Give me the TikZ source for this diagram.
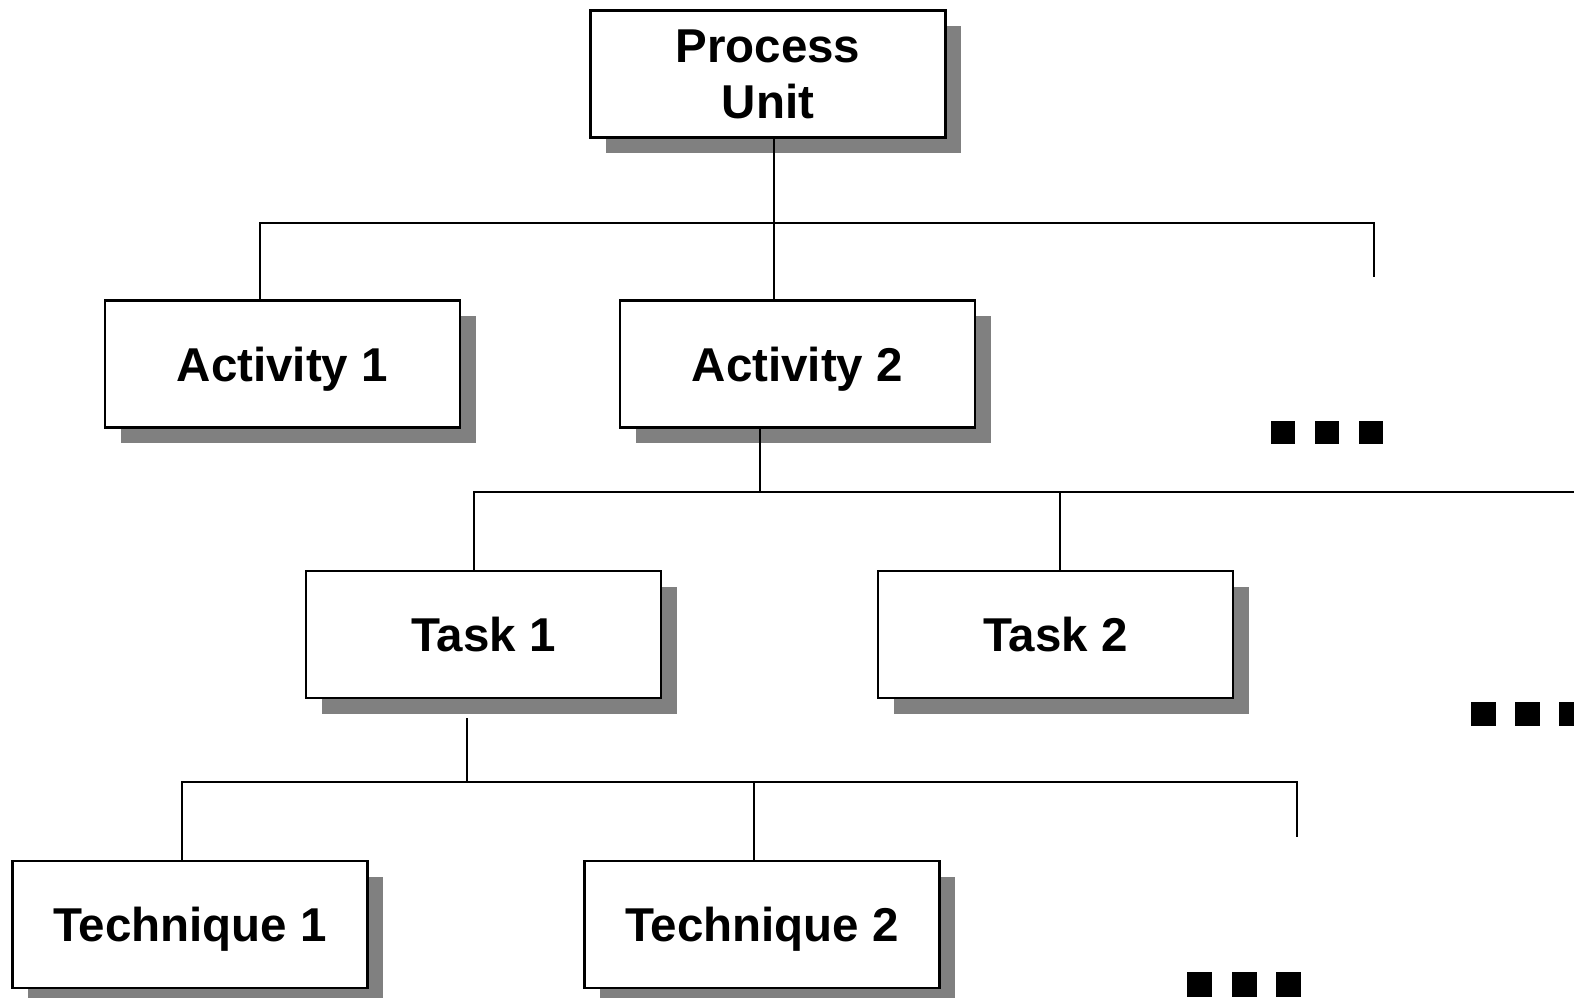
\documentclass[tikz,border=0pt]{standalone}
\usepackage{fontspec}
\setmainfont{Liberation Sans}
\usetikzlibrary{shadows}
\begin{document}
\begin{tikzpicture}[x=1pt,y=-1pt,
  unitbox/.style={draw=black, line width=2.8pt, fill=white, anchor=north west,
    minimum width=355pt, minimum height=127pt, inner sep=0pt, align=center,
    font=\fontsize{47.5}{56}\selectfont\bfseries,
    drop shadow={shadow xshift=16pt, shadow yshift=-16pt, fill=black!50, opacity=1, draw=none}},
  oneline/.style={unitbox, text depth=0pt},
  link/.style={line width=2.4pt, line cap=rect},
  dot/.style={fill=black}]
\useasboundingbox (0,0) rectangle (1574,997);

% hierarchy boxes
\node[unitbox] (pu) at (589,9) {Process\\Unit};
\node[oneline] (a1) at (103.5,299) {Activity 1};
\node[oneline] (a2) at (618.5,299) {Activity 2};
\node[oneline] (t1) at (304.5,569.5) {Task 1};
\node[oneline] (t2) at (876.5,569.5) {Task 2};
\node[oneline] (q1) at (11,859.5) {Technique 1};
\node[oneline] (q2) at (583,859.5) {Technique 2};

% level 1 connectors
\coordinate (j1) at (774,222.8);
\coordinate (e1) at (1374,276);
\draw[link] (pu.south -| j1) -- (a2.north -| j1);
\draw[link] (a1.north -| 260,0) |- (j1) -| (e1);

% level 2 connectors
\coordinate (j2) at (760,491.9);
\coordinate (e2) at (1574,491.9);
\draw[link] (a2.south -| j2) -- (j2);
\draw[link] (t1.north -| 473.8,0) |- (e2);
\draw[link] (t2.north -| 1060,0) -- (1060,491.9);

% level 3 connectors
\coordinate (s3) at (466.8,718.7);
\coordinate (j3) at (466.8,782);
\coordinate (e3) at (1297,836);
\draw[link] (s3) -- (j3);
\draw[link] (q1.north -| 181.7,0) |- (j3) -| (e3);
\draw[link] (q2.north -| 753.9,0) -- (753.9,782);

% continuation marks
\foreach \x in {1270.8,1315,1359} \fill[dot] (\x,420.6) rectangle ++(24.2,23.2);
\foreach \x in {1471,1515,1559} \fill[dot] (\x,702) rectangle ++(24.5,24);
\foreach \x in {1187,1232,1276} \fill[dot] (\x,972) rectangle ++(25,25);
\end{tikzpicture}
\end{document}
